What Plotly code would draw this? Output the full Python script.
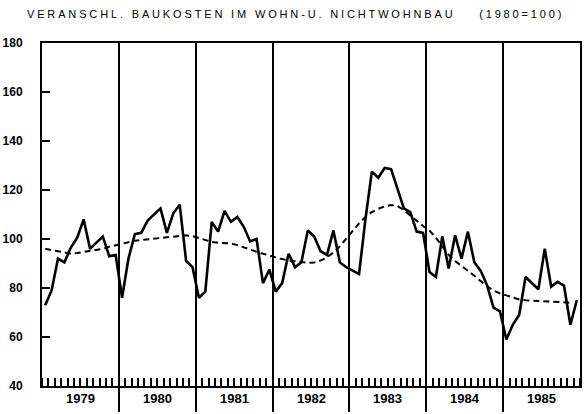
import plotly.graph_objects as go

years = [1979, 1980, 1981, 1982, 1983, 1984, 1985]
year_labels = ["1979", "1980", "1981", "1982", "1983", "1984", "1985"]

# monthly index values (solid line)
index_1979 = [73, 79, 92, 90.5, 96.5, 100.5, 108, 96, 98.5, 101, 93, 93.5]
index_1980 = [76, 92, 102, 102.5, 107.5, 110, 112.5, 102.5, 110.5, 114, 91, 88.5]
index_1981 = [76, 78.5, 107, 103, 111.5, 107, 109, 105, 99, 100, 82, 87.5]
index_1982 = [78.5, 82, 94, 88.5, 90.5, 103.5, 101, 95, 93.5, 103.5, 90.5, 88.5]
index_1983 = [87, 85.7, 108, 127.5, 125, 129, 128.5, 120, 112.5, 111, 103, 102.5]
index_1984 = [86.5, 84.5, 101, 88, 101.5, 92, 103, 90.5, 87, 81, 72, 70.5]
index_1985 = [59, 65, 69, 84.5, 82, 79.5, 96, 80.5, 82.5, 81, 65, 75]

# smoothed trend (dashed line), Jan 1979 - Nov 1985
trend_1979 = [96, 95.5, 95, 94.3, 94, 94.3, 94.7, 95, 95.5, 96, 96.8, 97.5]
trend_1980 = [98.2, 98.8, 99.3, 99.6, 99.9, 100.1, 100.3, 100.6, 100.9, 101.2, 101.5, 101.2]
trend_1981 = [100.5, 99.5, 98.8, 98.5, 98.3, 98.2, 97.5, 96.5, 95.5, 94.8, 94, 93.2]
trend_1982 = [92.6, 91.8, 91.2, 90.8, 90.5, 90.3, 90.4, 91.2, 92.5, 94.5, 97, 100.3]
trend_1983 = [103.5, 106.4, 109, 111, 112.3, 113.3, 113.9, 113.5, 111.8, 109.5, 107.3, 105.3]
trend_1984 = [103.5, 100.5, 97, 93.5, 91, 89, 87.3, 85, 82.8, 80.7, 79, 77.8]
trend_1985 = [77, 76, 75.3, 75, 74.9, 74.8, 74.7, 74.6, 74.4, 74.2, 74]

index_vals = index_1979 + index_1980 + index_1981 + index_1982 + index_1983 + index_1984 + index_1985
trend_vals = trend_1979 + trend_1980 + trend_1981 + trend_1982 + trend_1983 + trend_1984 + trend_1985

x_months = [y + (m + 0.5) / 12 for y in years for m in range(12)]

FONT = "Liberation Sans, Arial, sans-serif"

W, H = 587, 414
ML, MR, MT, MB = 42, 7, 43, 28

fig = go.Figure()
fig.add_trace(go.Scatter(x=x_months, y=index_vals, mode="lines",
                         line=dict(color="black", width=2.6), showlegend=False))
fig.add_trace(go.Scatter(x=x_months[:len(trend_vals)], y=trend_vals, mode="lines",
                         line=dict(color="black", width=2, dash="6px,4px"), showlegend=False))

boundaries = years[1:]
fig.update_xaxes(
    range=[years[0], years[-1] + 1],
    tickvals=boundaries,
    ticks="outside", ticklen=24, tickwidth=1.5, tickcolor="black",
    showticklabels=False, automargin=False,
    showgrid=True, gridcolor="black", gridwidth=1.5,
    showline=True, linecolor="black", linewidth=2, mirror=True,
    zeroline=False,
    minor=dict(dtick=1/12, tick0=years[0], ticks="inside", ticklen=8,
               tickwidth=1.6, tickcolor="black", showgrid=False),
)
fig.update_yaxes(
    range=[40, 180], dtick=20, tick0=40, automargin=False,
    ticks="inside", ticklen=8, tickwidth=1.5, tickcolor="black",
    showgrid=False, zeroline=False,
    showline=True, linecolor="black", linewidth=2, mirror=True,
    tickfont=dict(family=FONT, size=12, color="black", weight="bold"),
    ticklabelstandoff=15,
)

for y, lab in zip(years, year_labels):
    fig.add_annotation(x=y + 0.5, y=0, xref="x", yref="paper", yshift=-22,
                       text=lab, showarrow=False,
                       font=dict(family=FONT, size=13, color="black", weight="bold"))

plot_w = W - ML - MR
plot_h = H - MT - MB
fig.add_annotation(
    x=(25 - ML) / plot_w, y=(H - MB - 14) / plot_h,
    xref="paper", yref="paper", xanchor="left", yanchor="middle",
    text='<span style="letter-spacing:2.85px">VERANSCHL.&nbsp;BAUKOSTEN IM WOHN-U.&nbsp;NICHTWOHNBAU&nbsp;&nbsp;&nbsp; (1980=100)</span>',
    showarrow=False,
    font=dict(family=FONT, size=11, color="black"),
)

fig.update_layout(
    width=W, height=H,
    margin=dict(l=ML, r=MR, t=MT, b=MB),
    paper_bgcolor="white", plot_bgcolor="white",
)

fig.write_html("out.html",
               config={"displayModeBar": False},
               post_script="document.body.style.margin='0';document.body.style.overflow='hidden';")
